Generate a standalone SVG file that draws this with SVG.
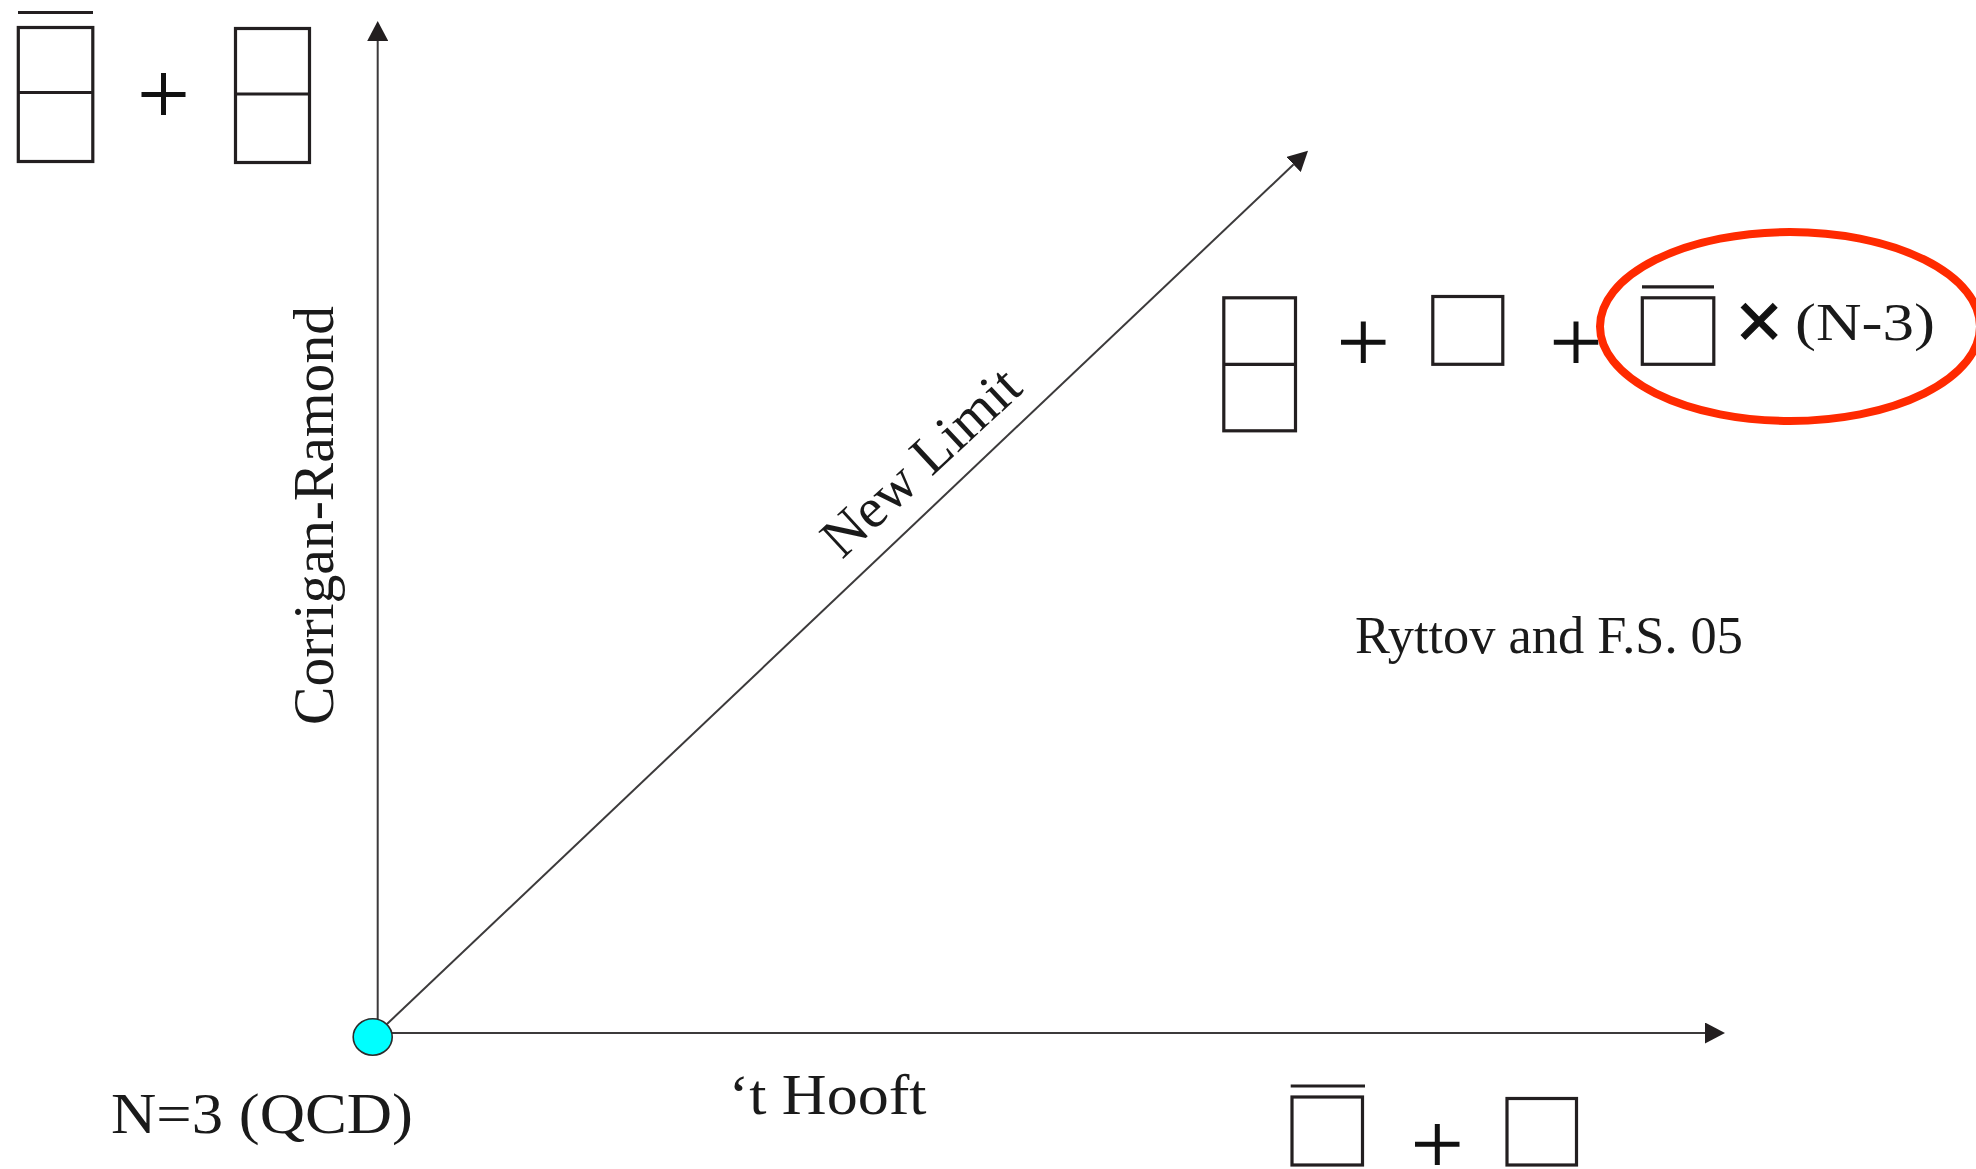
<svg xmlns="http://www.w3.org/2000/svg" width="1976" height="1169" viewBox="0 0 1976 1169">
  <defs>
    <marker id="arrow" viewBox="0 0 20 21" refX="0" refY="10.5" markerWidth="20" markerHeight="21" markerUnits="userSpaceOnUse" orient="auto">
      <path d="M0,0 L20,10.5 L0,21 Z" fill="#231f20"/>
    </marker>
    <style>
      .axis { stroke: #3c3a3b; stroke-width: 2; fill: none; }
      .yt { fill: none; stroke: #231f20; stroke-width: 3.2; }
      .bar { stroke: #231f20; stroke-width: 3.2; }
      .plus { stroke: #111; stroke-width: 5; }
      .lbl { font-family: "Liberation Serif", "DejaVu Serif", serif; fill: #1a1a1a; }
    </style>
  </defs>

  <!-- axes -->
  <g id="connectors">
    <line class="axis" x1="377.7" y1="1020" x2="377.7" y2="41" marker-end="url(#arrow)"/>
    <line class="axis" x1="392" y1="1033" x2="1705" y2="1033" marker-end="url(#arrow)"/>
    <line class="axis" x1="387" y1="1024" x2="1293.5" y2="164.5" marker-end="url(#arrow)"/>
  </g>

  <!-- QCD point -->
  <g id="origin">
    <ellipse cx="372.7" cy="1037" rx="19.5" ry="18.2" fill="#00ffff" stroke="#2b2b2b" stroke-width="1.6"/>
  </g>

  <!-- top-left: antisymmetric-bar + antisymmetric -->
  <g id="corrigan-ramond-reps">
    <line class="bar" x1="18" y1="12.5" x2="93" y2="12.5"/>
    <rect class="yt" x="18.3" y="27.5" width="74.5" height="134"/>
    <line class="bar" x1="18.3" y1="92.5" x2="92.8" y2="92.5"/>
    <line class="plus" x1="141.5" y1="94.5" x2="185.5" y2="94.5"/>
    <line class="plus" x1="163.5" y1="73" x2="163.5" y2="115"/>
    <rect class="yt" x="235.5" y="28.5" width="74" height="134"/>
    <line class="bar" x1="235.5" y1="94" x2="309.5" y2="94"/>
  </g>

  <!-- right: new-limit reps -->
  <g id="new-limit-reps">
    <rect class="yt" x="1223.8" y="297.8" width="71.7" height="133"/>
    <line class="bar" x1="1223.8" y1="364.3" x2="1295.5" y2="364.3"/>
    <line class="plus" x1="1341" y1="342.3" x2="1385.5" y2="342.3"/>
    <line class="plus" x1="1363.3" y1="321.5" x2="1363.3" y2="363"/>
    <rect class="yt" x="1432.8" y="296.5" width="70" height="67.8"/>
    <line class="plus" x1="1553.8" y1="342.3" x2="1598.3" y2="342.3"/>
    <line class="plus" x1="1576" y1="321.5" x2="1576" y2="363"/>
    <line class="bar" x1="1642" y1="286.8" x2="1714" y2="286.8"/>
    <rect class="yt" x="1642.3" y="297.8" width="71.5" height="66.5"/>
    <text x="1759" y="348" text-anchor="middle" font-family="'Liberation Sans', Arial, sans-serif" font-size="80" fill="#111" stroke="#111" stroke-width="1.2">×</text>
    <text class="lbl" x="1795" y="340" font-size="53" textLength="140" lengthAdjust="spacingAndGlyphs">(N-3)</text>
    <ellipse cx="1790" cy="326.5" rx="190" ry="94.5" fill="none" stroke="#ff2a00" stroke-width="8"/>
  </g>

  <!-- bottom: 't Hooft reps -->
  <g id="thooft-reps">
    <line class="bar" x1="1290.7" y1="1086" x2="1365" y2="1086"/>
    <rect class="yt" x="1292" y="1097" width="70.5" height="68"/>
    <line class="plus" x1="1415" y1="1144.3" x2="1459.5" y2="1144.3"/>
    <line class="plus" x1="1437.3" y1="1124" x2="1437.3" y2="1165"/>
    <rect class="yt" x="1507" y="1098.5" width="69.5" height="66.5"/>
  </g>

  <!-- labels -->
  <g id="labels">
    <text class="lbl" transform="translate(333,515.5) rotate(-90)" text-anchor="middle" font-size="58" textLength="419" lengthAdjust="spacingAndGlyphs">Corrigan-Ramond</text>
    <text class="lbl" transform="translate(842,560) rotate(-42.8)" font-size="56" textLength="249" lengthAdjust="spacingAndGlyphs">New Limit</text>
    <text class="lbl" x="111" y="1133" font-size="57" textLength="302" lengthAdjust="spacingAndGlyphs">N=3 (QCD)</text>
    <text class="lbl" x="728.5" y="1114" font-size="56" textLength="198" lengthAdjust="spacingAndGlyphs">‘t Hooft</text>
    <text class="lbl" x="1355" y="653" font-size="52" textLength="388" lengthAdjust="spacingAndGlyphs">Ryttov and F.S. 05</text>
  </g>
</svg>
